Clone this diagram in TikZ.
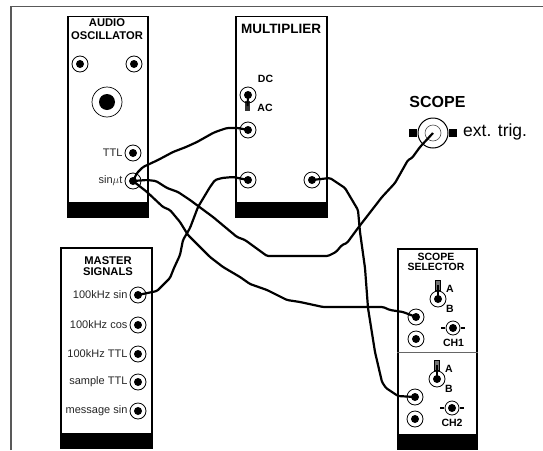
\documentclass[tikz,border=0pt]{standalone}
\usepackage{fontspec}
\setmainfont{Liberation Sans}
\usetikzlibrary{positioning,calc}

\tikzset{
  panel/.style={draw, line width=1.8pt, anchor=north west, inner sep=0pt},
  band/.style={fill=black, inner sep=0pt, anchor=south, minimum height=16pt},
  socket/.style={circle, draw, line width=0.8pt, minimum size=16pt, inner sep=0pt,
    path picture={\fill (path picture bounding box.center) circle (4pt);}},
  toggle/.style={socket},
  bnc/.style={socket, minimum size=14pt},
  tab/.style={fill=black, inner sep=0pt, minimum width=4pt, minimum height=2.5pt},
  lever/.style={fill=black!55, draw, line width=0.5pt, minimum width=5pt, minimum height=10pt, inner sep=0pt},
  title/.style={font=\bfseries\fontsize{10.5}{10}\selectfont, align=center, inner sep=0pt},
  tag/.style={font=\fontsize{11}{12}\selectfont, anchor=east, inner sep=0pt, text=black!85},
  mark label/.style={font=\bfseries\fontsize{10.5}{12}\selectfont, inner sep=0pt},
  wire/.style={line width=2.2pt, rounded corners=1.5pt, line join=round}
}

\begin{document}
\begin{tikzpicture}[x=1pt, y=-1pt]
  \useasboundingbox (0,0) rectangle (543,450);
  \draw[black!65, line width=1.5pt] (11,450) -- (11,6.5) -- (543,6.5);

  % Audio oscillator
  \node[panel, minimum width=80pt, minimum height=201pt] (audio) at (67,15.5) {};
  \node[band, minimum width=80pt] (audioband) at (audio.south) {};
  \node[title, font=\bfseries\fontsize{11.2}{13}\selectfont] (audiotitle) at (107,29.5) {AUDIO\\OSCILLATOR};
  \node[socket] (audioa) at (80,64) {};
  \node[socket] (audiob) at (134,64) {};
  \node[circle, draw, line width=0.7pt, minimum size=30pt, inner sep=0pt] (knob) at (107,102) {};
  \node[circle, fill=black, minimum size=16pt, inner sep=0pt] (knobcap) at (knob.center) {};
  \node[socket] (ttl) at (133,153) {};
  \node[socket] (sinwt) at (133,181) {};
  \node[tag, left=2pt of ttl] (ttltag) {TTL};
  \node[tag, left=2pt of sinwt] (sintag) {sin$\mu$t};

  % Multiplier
  \node[panel, minimum width=91pt, minimum height=201pt] (mult) at (235,15.5) {};
  \node[band, minimum width=91pt] (multband) at (mult.south) {};
  \node[title, font=\bfseries\fontsize{13.5}{14}\selectfont] (multtitle) at (281,29) {MULTIPLIER};
  \node[fill=black!80, minimum width=5pt, minimum height=10pt, inner sep=0pt] (multlever) at (247.5,106) {};
  \node[socket] (multsw) at (248,95) {};
  \draw[line width=2pt] (multsw.center) -- (multlever.center);
  \node[mark label] (dc) at (265.5,79) {DC};
  \node[mark label] (ac) at (265,108) {AC};
  \node[socket] (multa) at (248,130) {};
  \node[socket] (multb) at (248,180) {};
  \node[socket] (multc) at (312,180) {};

  % Master signals
  \node[panel, minimum width=91pt, minimum height=200pt] (master) at (60,247) {};
  \node[band, minimum width=91pt] (masterband) at (master.south) {};
  \node[title, font=\bfseries\fontsize{11.2}{11}\selectfont] (mastertitle) at (108,266.5) {MASTER\\SIGNALS};
  \node[socket] (hsin) at (138,295) {};
  \node[socket] (hcos) at (138,325) {};
  \node[socket] (httl) at (138,354) {};
  \node[socket] (sttl) at (138,382) {};
  \node[socket] (msin) at (138,411) {};
  \node[tag, left=2pt of hsin] (hsintag) {100kHz sin};
  \node[tag, left=2pt of hcos] (hcostag) {100kHz cos};
  \node[tag, left=2pt of httl] (httltag) {100kHz TTL};
  \node[tag, left=2pt of sttl] (sttltag) {sample TTL};
  \node[tag, left=2pt of msin] (msintag) {message sin};

  % Scope selector
  \node[panel, minimum width=79pt, minimum height=200pt] (sel) at (397,248) {};
  \node[band, minimum width=79pt] (selband) at (sel.south) {};
  \draw[black!60, line width=1pt] (sel.west |- 0,352) -- (sel.east |- 0,352);
  \node[title] (seltitle) at (436,262) {SCOPE\\SELECTOR};
  \node[lever] (leverone) at (438,285) {};
  \node[lever] (levertwo) at (437,365) {};
  \node[toggle] (swone) at (438,299) {};
  \node[toggle] (swtwo) at (437,379) {};
  \draw[line width=1.6pt] (swone.center) -- (leverone.center);
  \draw[line width=1.6pt] (swtwo.center) -- (levertwo.center);
  \node[mark label] (aone) at (450,289) {A};
  \node[mark label] (bone) at (450,309) {B};
  \node[mark label] (atwo) at (449,369) {A};
  \node[mark label] (btwo) at (449,389) {B};
  \node[socket] (ina) at (416,317) {};
  \node[socket] (inb) at (416,339) {};
  \node[socket] (inc) at (415,397) {};
  \node[socket] (ind) at (415,419) {};
  \node[bnc] (chone) at (453,328) {};
  \node[bnc] (chtwo) at (452,408) {};
  \node[tab, left=0pt of chone] (chonel) {};
  \node[tab, right=0pt of chone] (choner) {};
  \node[tab, left=0pt of chtwo] (chtwol) {};
  \node[tab, right=0pt of chtwo] (chtwor) {};
  \node[mark label] (chonetag) at (453.5,343) {CH1};
  \node[mark label] (chtwotag) at (452,423) {CH2};

  % Scope input
  \node[circle, draw, line width=1pt, minimum size=30pt, inner sep=0pt] (scope) at (433,133) {};
  \node[circle, draw, black!70, line width=0.6pt, minimum size=16pt, inner sep=0pt] (scopecore) at (scope.center) {};
  \node[tab, minimum width=8pt, minimum height=8pt, left=0pt of scope] (scopel) {};
  \node[tab, minimum width=8pt, minimum height=8pt, right=0pt of scope] (scoper) {};
  \node[font=\bfseries\fontsize{16}{18}\selectfont, inner sep=0pt] (scopetag) at (437.5,102) {SCOPE};
  \node[font=\fontsize{17.5}{19}\selectfont, anchor=west, inner sep=0pt] (trigtag) at (463,132) {ext. trig.};

  % Patch leads
  \draw[wire] (sinwt.center) -- (137,173) -- (143,167) -- (158,160) -- (173,152) -- (186,147) -- (197,142)
    -- (213,133) -- (218,131) -- (227,128) -- (238,128) -- (multa.center);
  \draw[wire] (hsin.center) -- (157,291) -- (170,278) -- (174,268) -- (180,255) -- (183,240) -- (190,228)
    -- (198,207) -- (210,187) -- (215,180) -- (222,178) -- (233,177) -- (multb.center);
  \draw[wire] (sinwt.center) -- (147,192) -- (163,207) -- (170,210) -- (180,222) -- (188,235) -- (210,257)
    -- (223,267) -- (240,277) -- (250,284) -- (267,290) -- (287,300) -- (300,302) -- (323,307)
    -- (383,307) -- (390,310) -- (403,312) -- (ina.center);
  \draw[wire] (sinwt.center) -- (147,180) -- (156,181) -- (167,188) -- (178,192) -- (190,200) -- (213,217)
    -- (237,237) -- (245,240) -- (267,256) -- (328,256) -- (336,252) -- (342,245) -- (347,243) -- (358,228)
    -- (382,197) -- (395,183) -- (408,160) -- (412,158) -- (420,147) -- (scope.center);
  \draw[wire] (multc.center) -- (330,178) -- (345,188) -- (358,210) -- (360,232) -- (365,268) -- (368,308)
    -- (375,352) -- (382,382) -- (386,388) -- (398,396) -- (inc.center);
\end{tikzpicture}
\end{document}
